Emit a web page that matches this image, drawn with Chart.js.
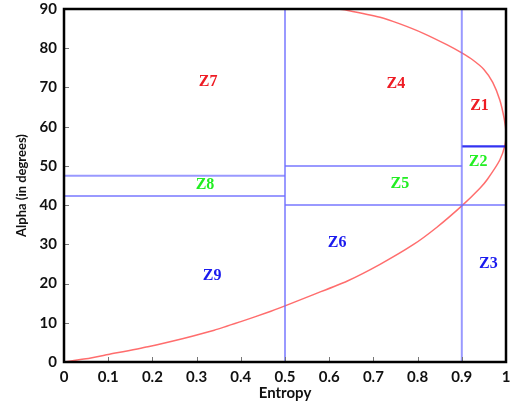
<!DOCTYPE html>
<html>
<head>
<meta charset="utf-8">
<script src="https://cdn.jsdelivr.net/npm/chart.js@4/dist/chart.umd.min.js"></script>
<style>
html,body{margin:0;padding:0;background:#fff;}
#wrap{width:514px;height:406px;}
</style>
</head>
<body>
<div id="wrap"><canvas id="c" width="514" height="406"></canvas></div>
<script>
// ---- data ----
const xTicks = [0,0.1,0.2,0.3,0.4,0.5,0.6,0.7,0.8,0.9,1];
const yTicks = [0,10,20,30,40,50,60,70,80,90];

const curveH =     [0, 0.05, 0.10, 0.19, 0.27, 0.34, 0.40, 0.46, 0.50, 0.56, 0.64, 0.715, 0.79, 0.843, 0.90, 0.941, 0.958, 0.986, 0.998, 1.0, 0.996, 0.986, 0.97, 0.95, 0.925, 0.90, 0.866, 0.813, 0.76, 0.715, 0.64, 0.62];
const curveAlpha = [0, 0.8, 1.9, 3.9, 6.0, 8.1, 10.3, 12.6, 14.3, 17.0, 20.6, 24.9, 29.9, 34.3, 39.8, 44.3, 46.6, 51.5, 55.5, 58.5, 62.0, 66.8, 71.3, 74.6, 77.0, 78.8, 80.9, 83.8, 86.2, 87.9, 89.7, 90];

// boundary segments: [H1, alpha1] -> [H2, alpha2]
const boundH1 = [0.5, 0.9, 0,    0,    0.5, 0.5, 0.9];
const boundA1 = [0,   0,   47.5, 42.3, 50,  40,  55];
const boundH2 = [0.5, 0.9, 0.5,  0.5,  0.9, 1.0, 1.0];
const boundA2 = [90,  90,  47.5, 42.3, 50,  40,  55];
const boundStrong = [false,false,false,false,false,false,true];

const zoneNames = ['Z1','Z2','Z3','Z4','Z5','Z6','Z7','Z8','Z9'];
const zoneH     = [0.940,0.937,0.960,0.751,0.760,0.618,0.326,0.319,0.335];
const zoneAlpha = [65.3, 50.9, 25.0, 70.9, 45.3, 30.5, 71.5, 45.1, 22.0];
const zoneColor = ['#ee1c24','#22ee22','#1a1aee','#ee1c24','#22ee22','#1a1aee','#ee1c24','#22ee22','#1a1aee'];

// ---- datasets ----
const datasets = [];
boundH1.forEach((h, i) => {
  datasets.push({
    data: [{x: h, y: boundA1[i]}, {x: boundH2[i], y: boundA2[i]}],
    showLine: true,
    borderColor: boundStrong[i] ? 'rgba(40,40,240,0.95)' : 'rgba(110,110,255,0.7)',
    borderWidth: boundStrong[i] ? 2.2 : 2,
    pointRadius: 0,
    tension: 0
  });
});
datasets.push({
  data: curveH.map((h, i) => ({x: h, y: curveAlpha[i]})),
  showLine: true,
  borderColor: 'rgba(255,60,60,0.75)',
  borderWidth: 1.5,
  pointRadius: 0,
  tension: 0.2
});

const tickFont = {family: 'Lato', weight: 'bold', size: 15};

const insideTicks = {
  id: 'insideTicks',
  afterDatasetsDraw(chart) {
    const {ctx, chartArea: a, scales: {x, y}} = chart;
    ctx.save();
    ctx.strokeStyle = '#777';
    ctx.lineWidth = 1;
    xTicks.forEach(v => {
      const px = Math.round(x.getPixelForValue(v)) + 0.5;
      ctx.beginPath(); ctx.moveTo(px, a.bottom); ctx.lineTo(px, a.bottom - 5); ctx.stroke();
    });
    yTicks.forEach(v => {
      const py = Math.round(y.getPixelForValue(v)) + 0.5;
      ctx.beginPath(); ctx.moveTo(a.left, py); ctx.lineTo(a.left + 5, py); ctx.stroke();
    });
    // zone labels
    ctx.font = 'bold 16px "Liberation Serif"';
    ctx.textAlign = 'center';
    ctx.textBaseline = 'middle';
    zoneNames.forEach((n, i) => {
      ctx.fillStyle = zoneColor[i];
      ctx.fillText(n, x.getPixelForValue(zoneH[i]), y.getPixelForValue(zoneAlpha[i]));
    });
    // frame
    ctx.strokeStyle = '#000';
    ctx.lineWidth = 2.5;
    ctx.strokeRect(a.left, a.top, a.right - a.left, a.bottom - a.top);
    ctx.restore();
  }
};

new Chart(document.getElementById('c'), {
  type: 'scatter',
  data: {datasets},
  plugins: [insideTicks],
  options: {
    responsive: false,
    animation: false,
    layout: {padding: {top: 9, right: 8, left: 0, bottom: 0}},
    plugins: {legend: {display: false}, tooltip: {enabled: false}},
    scales: {
      x: {
        type: 'linear', min: 0, max: 1,
        afterBuildTicks: s => { s.ticks = xTicks.map(v => ({value: v})); },
        afterFit: s => { s.height = 44; s.paddingLeft = 0; s.paddingRight = 0; },
        grid: {display: false, drawTicks: false},
        border: {display: false},
        ticks: {font: tickFont, color: '#111', padding: 6, maxRotation: 0,
                callback: v => String(v)},
        title: {display: true, text: 'Entropy', font: {family: 'Lato', weight: 'bold', size: 15}, color: '#111', padding: {top: 0, bottom: 4}}
      },
      y: {
        type: 'linear', min: 0, max: 90,
        afterBuildTicks: s => { s.ticks = yTicks.map(v => ({value: v})); },
        afterFit: s => { s.width = 64; s.paddingTop = 0; s.paddingBottom = 0; },
        grid: {display: false, drawTicks: false},
        border: {display: false},
        ticks: {font: tickFont, color: '#111', padding: 7,
                callback: v => String(v)},
        title: {display: true, text: 'Alpha (in degrees)', font: {family: 'Lato', weight: 'bold', size: 13}, color: '#111', padding: {top: 14, bottom: 0}}
      }
    }
  }
});
</script>
</body>
</html>
